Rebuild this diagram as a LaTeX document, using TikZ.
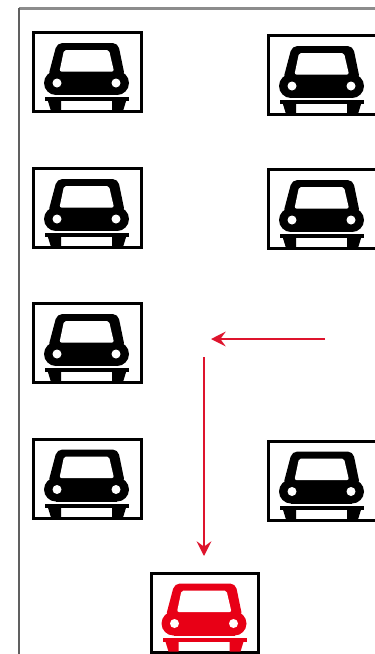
\documentclass[tikz,border=0pt]{standalone}
\usetikzlibrary{arrows.meta}
\definecolor{carred}{RGB}{232,0,22}
\definecolor{arrowred}{RGB}{222,20,45}
\tikzset{
  carbox/.style={draw=black,line width=2.5pt,fill=white,anchor=north west,inner sep=0pt,minimum width=107.5*0.75pt,minimum height=79*0.75pt},
  route/.style={draw=arrowred,line width=2pt,-{Stealth[length=11pt,width=11pt,inset=4pt]}},
  pics/car/.style={code={
    \fill[#1,rounded corners=4pt] (25,12) -- (86,12) -- (93,46) -- (16,46) -- cycle;
    \fill[#1] (24,52) circle (12);
    \fill[#1] (85,52) circle (12);
    \fill[#1] (24,42) rectangle (85,64);
    \fill[#1] (13,66) rectangle (97,70);
    \fill[#1] (15,67) -- (29,67) -- (29,80) -- (19,80) -- cycle;
    \fill[#1] (80,67) -- (95,67) -- (91,80) -- (80,80) -- cycle;
    \fill[white,rounded corners=1.5pt] (32,19) -- (77,19) -- (82,40.5) -- (27.5,40.5) -- cycle;
    \fill[white] (25,52) circle (4.5);
    \fill[white] (84,52) circle (4.5);
  }}
}
\begin{document}
\begin{tikzpicture}[x=0.75pt,y=-0.75pt]
\useasboundingbox (0,0) rectangle (375,654);
\draw[draw=gray!90,line width=2pt] (375,8.5) -- (19,8.5);
\draw[draw=gray!75!black,line width=1pt] (19,8) -- (19,654);
\node[carbox] (a1) at (32,31) {};
\node[carbox] (a2) at (32,167) {};
\node[carbox] (a3) at (32,302) {};
\node[carbox] (a4) at (32,437.5) {};
\node[carbox] (b1) at (267,34) {};
\node[carbox] (b2) at (267,168) {};
\node[carbox] (b4) at (267,439.5) {};
\node[carbox] (red) at (149.5,571.5) {};
\pic at (a1.north west) {car=black};
\pic at (a2.north west) {car=black};
\pic at (a3.north west) {car=black};
\pic at (a4.north west) {car=black};
\pic at (b1.north west) {car=black};
\pic at (b2.north west) {car=black};
\pic at (b4.north west) {car=black};
\pic at (red.north west) {car=carred};
\coordinate (h1) at (325,339);
\coordinate (h2) at (211,339);
\coordinate (v1) at (204,357);
\coordinate (v2) at (204,556);
\draw[route] (h1) -- (h2);
\draw[route] (v1) -- (v2);
\end{tikzpicture}
\end{document}
